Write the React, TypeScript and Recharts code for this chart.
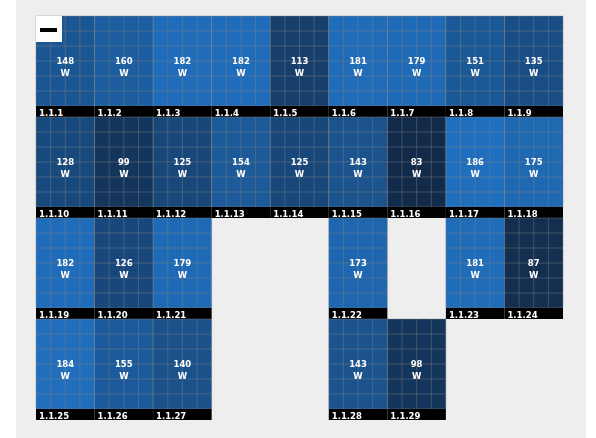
import { ScatterChart, Scatter, XAxis, YAxis } from 'recharts';

const labels = [
  '1.1.1', '1.1.2', '1.1.3', '1.1.4', '1.1.5', '1.1.6', '1.1.7', '1.1.8', '1.1.9',
  '1.1.10', '1.1.11', '1.1.12', '1.1.13', '1.1.14', '1.1.15', '1.1.16', '1.1.17', '1.1.18',
  '1.1.19', '1.1.20', '1.1.21', '1.1.22', '1.1.23', '1.1.24',
  '1.1.25', '1.1.26', '1.1.27', '1.1.28', '1.1.29',
];
const watts = [
  148, 160, 182, 182, 113, 181, 179, 151, 135,
  128, 99, 125, 154, 125, 143, 83, 186, 175,
  182, 126, 179, 173, 181, 87,
  184, 155, 140, 143, 98,
];
const cols = [
  0, 1, 2, 3, 4, 5, 6, 7, 8,
  0, 1, 2, 3, 4, 5, 6, 7, 8,
  0, 1, 2, 5, 7, 8,
  0, 1, 2, 5, 6,
];
const rows = [
  0, 0, 0, 0, 0, 0, 0, 0, 0,
  1, 1, 1, 1, 1, 1, 1, 1, 1,
  2, 2, 2, 2, 2, 2,
  3, 3, 3, 3, 3,
];

const data = labels.map((name, i) => ({ name, w: watts[i], col: cols[i] + 0.5, row: rows[i] + 0.5 }));

const W = 570;
const H = 438;
const M = { top: 16, right: 23, bottom: 18, left: 20 };
const cellW = (W - M.left - M.right) / 9;
const cellH = (H - M.top - M.bottom) / 4;
const stripH = 11;

// dark at the lowest reading, light at the highest
function colour(v: number) {
  const t = (v - 83) / (186 - 83);
  const mix = (a: number, b: number) => Math.round(a + (b - a) * t);
  return `rgb(${mix(18, 32)},${mix(43, 111)},${mix(75, 190)})`;
}

function Module(props: any) {
  const { cx, cy, payload } = props;
  const x = cx - cellW / 2;
  const y = cy - cellH / 2;
  const panelH = cellH - stripH;
  const id = `clip-${payload.name}`;
  const line = { stroke: '#808080', strokeOpacity: 0.55, strokeWidth: 0.8 };
  const label = { fontSize: 8.5, fontWeight: 'bold', fill: '#fff' } as const;
  return (
    <g>
      <rect x={x} y={y} width={cellW} height={panelH} fill={colour(payload.w)} />
      {[0, 1, 2, 3, 4].map((i) => (
        <line key={'v' + i} x1={x + (cellW * i) / 4} x2={x + (cellW * i) / 4} y1={y} y2={y + panelH} {...line} />
      ))}
      {[0, 1, 2, 3, 4, 5, 6].map((i) => (
        <line key={'h' + i} x1={x} x2={x + cellW} y1={y + (panelH * i) / 6} y2={y + (panelH * i) / 6} {...line} />
      ))}
      <rect x={x} y={y + panelH} width={cellW} height={stripH} fill="#000" />
      <clipPath id={id}>
        <rect x={x} y={y + panelH} width={cellW} height={stripH} />
      </clipPath>
      <text x={x + 3} y={y + panelH + 10} {...label} clipPath={`url(#${id})`}>
        {payload.name}
      </text>
      <text x={cx} y={y + panelH / 2 + 3} {...label} textAnchor="middle">
        {payload.w}
      </text>
      <text x={cx} y={y + panelH / 2 + 15} {...label} textAnchor="middle">
        W
      </text>
    </g>
  );
}

export default function App() {
  return (
    <div style={{ position: 'absolute', left: 16, top: 0, width: W, height: H, background: '#eeeeee', fontFamily: '"DejaVu Sans"', overflow: 'hidden' }}>
      <div style={{ filter: 'blur(0.7px)' }}>
        <ScatterChart width={W} height={H} margin={M}>
          <XAxis type="number" dataKey="col" domain={[0, 9]} hide />
          <YAxis type="number" dataKey="row" domain={[0, 4]} reversed hide />
          <Scatter data={data} shape={Module} isAnimationActive={false} />
        </ScatterChart>
        <div style={{ position: 'absolute', left: 20, top: 16, width: 26, height: 26, background: '#fff' }}>
          <div style={{ position: 'absolute', left: 4, top: 12, width: 17, height: 4, background: '#000' }} />
        </div>
      </div>
    </div>
  );
}
